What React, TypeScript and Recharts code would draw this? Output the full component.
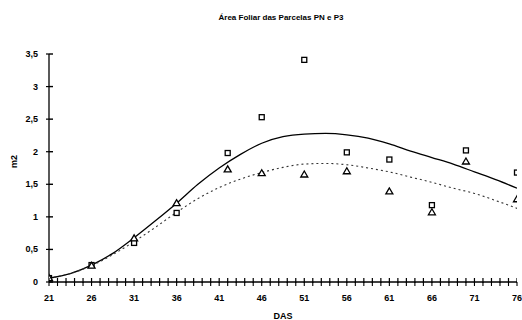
import { ComposedChart, Line, Scatter, XAxis, YAxis, Label } from "recharts"

// Observações (m2) por DAS
const squareData = [
  { x: 21, y: 0.06 },
  { x: 26, y: 0.26 },
  { x: 31, y: 0.6 },
  { x: 36, y: 1.06 },
  { x: 42, y: 1.98 },
  { x: 46, y: 2.53 },
  { x: 51, y: 3.41 },
  { x: 56, y: 1.99 },
  { x: 61, y: 1.88 },
  { x: 66, y: 1.18 },
  { x: 70, y: 2.02 },
  { x: 76, y: 1.68 },
]

const triangleData = [
  { x: 21, y: 0.06 },
  { x: 26, y: 0.25 },
  { x: 31, y: 0.67 },
  { x: 36, y: 1.21 },
  { x: 42, y: 1.73 },
  { x: 46, y: 1.67 },
  { x: 51, y: 1.65 },
  { x: 56, y: 1.7 },
  { x: 61, y: 1.39 },
  { x: 66, y: 1.07 },
  { x: 70, y: 1.85 },
  { x: 76, y: 1.27 },
]

// Curvas ajustadas
const curveDays = [21, 23.5, 26, 28.5, 31, 33.5, 36, 38.5, 41, 43.5, 46, 48.5, 51, 53.5, 56, 58.5, 61, 63.5, 66, 68.5, 71, 73.5, 76]
const solidValues = [0.06, 0.13, 0.26, 0.44, 0.68, 0.94, 1.21, 1.5, 1.75, 1.96, 2.13, 2.23, 2.27, 2.28, 2.26, 2.21, 2.12, 2.01, 1.91, 1.81, 1.69, 1.57, 1.44]
const dashedValues = [0.06, 0.13, 0.25, 0.42, 0.62, 0.84, 1.07, 1.28, 1.45, 1.58, 1.68, 1.76, 1.81, 1.82, 1.8, 1.75, 1.69, 1.61, 1.53, 1.44, 1.36, 1.25, 1.13]

const labelTicks = [21, 26, 31, 36, 41, 46, 51, 56, 61, 66, 71, 76]
const yTicks = [0, 0.5, 1, 1.5, 2, 2.5, 3, 3.5]
const xMinorTicks = Array.from({ length: 56 }, (_, i) => 21 + i)

const solidCurve = curveDays.map((d, i) => ({ x: d, y: solidValues[i] }))
const dashedCurve = curveDays.map((d, i) => ({ x: d, y: dashedValues[i] }))
// parte interna das marcas dos eixos, posicionada pelas escalas
const xTickMarks = xMinorTicks.map((d) => ({ x: d, y: 0 }))
const yTickMarks = yTicks.map((v) => ({ x: 21, y: v }))

const FONT = "'Liberation Sans', Arial, sans-serif"

function XTick(props: any) {
  const { x, y, payload } = props
  if (!labelTicks.includes(payload.value)) return <g />
  return (
    <text x={x} y={y + 14} textAnchor="middle" fontSize={9} fontWeight="bold" fontFamily={FONT} fill="#000">
      {payload.value}
    </text>
  )
}

function YTick(props: any) {
  const { x, y, payload } = props
  return (
    <text x={x - 7} y={y + 3} textAnchor="end" fontSize={9} fontWeight="bold" fontFamily={FONT} fill="#000">
      {String(payload.value).replace(".", ",")}
    </text>
  )
}

function VMark(props: any) {
  const { cx, cy } = props
  return <rect x={cx - 0.6} y={cy - 4} width={1.2} height={5} fill="#000" stroke="none" />
}

function HMark(props: any) {
  const { cx, cy } = props
  return <rect x={cx - 1} y={cy - 0.7} width={5} height={1.4} fill="#000" stroke="none" />
}

function SquareShape(props: any) {
  const { cx, cy } = props
  return <rect x={cx - 2.5} y={cy - 2.5} width={5} height={5} fill="#fff" stroke="#000" strokeWidth={1.3} />
}

function TriangleShape(props: any) {
  const { cx, cy } = props
  return (
    <polygon
      points={`${cx},${cy - 3.5} ${cx - 3.5},${cy + 2.5} ${cx + 3.5},${cy + 2.5}`}
      fill="#fff"
      stroke="#000"
      strokeWidth={1.3}
    />
  )
}

export default function App() {
  return (
    <div style={{ width: 522, height: 320, background: "#fff" }}>
      <style>{"body{margin:0}"}</style>
      <ComposedChart width={522} height={320} margin={{ top: 54, right: 5, bottom: 0, left: 0 }}>
        <text x={281} y={20} textAnchor="middle" fontSize={8} fontWeight="bold" fontFamily={FONT} fill="#000">
          Área Foliar das Parcelas PN e P3
        </text>
        <XAxis
          dataKey="x"
          type="number"
          domain={[21, 76]}
          ticks={xMinorTicks}
          interval={0}
          height={38}
          tickSize={4}
          tickMargin={1}
          tickLine={{ stroke: "#000", strokeWidth: 1.1 }}
          tick={<XTick />}
          axisLine={{ stroke: "#000", strokeWidth: 1.3 }}
          allowDataOverflow
        >
          <Label value="DAS" position="insideBottom" offset={1} fontSize={9} fontWeight="bold" fontFamily={FONT} fill="#000" />
        </XAxis>
        <YAxis
          type="number"
          domain={[0, 3.5]}
          ticks={yTicks}
          interval={0}
          width={49}
          tickSize={3}
          tickMargin={1}
          tickLine={{ stroke: "#000", strokeWidth: 1.2 }}
          tick={<YTick />}
          axisLine={{ stroke: "#000", strokeWidth: 1.3 }}
        >
          <Label value="m2" angle={-90} position="insideLeft" offset={14} fontSize={9} fontWeight="bold" fontFamily={FONT} fill="#000" />
        </YAxis>
        <Line
          data={solidCurve}
          dataKey="y"
          type="monotone"
          stroke="#000"
          strokeWidth={1.3}
          dot={false}
          isAnimationActive={false}
        />
        <Line
          data={dashedCurve}
          dataKey="y"
          type="monotone"
          stroke="#333"
          strokeWidth={1.1}
          strokeDasharray="2 3"
          dot={false}
          isAnimationActive={false}
        />
        <Scatter data={squareData} dataKey="y" shape={<SquareShape />} isAnimationActive={false} />
        <Scatter data={triangleData} dataKey="y" shape={<TriangleShape />} isAnimationActive={false} />
        <Scatter data={xTickMarks} dataKey="y" shape={<VMark />} isAnimationActive={false} />
        <Scatter data={yTickMarks} dataKey="y" shape={<HMark />} isAnimationActive={false} />
      </ComposedChart>
    </div>
  )
}
